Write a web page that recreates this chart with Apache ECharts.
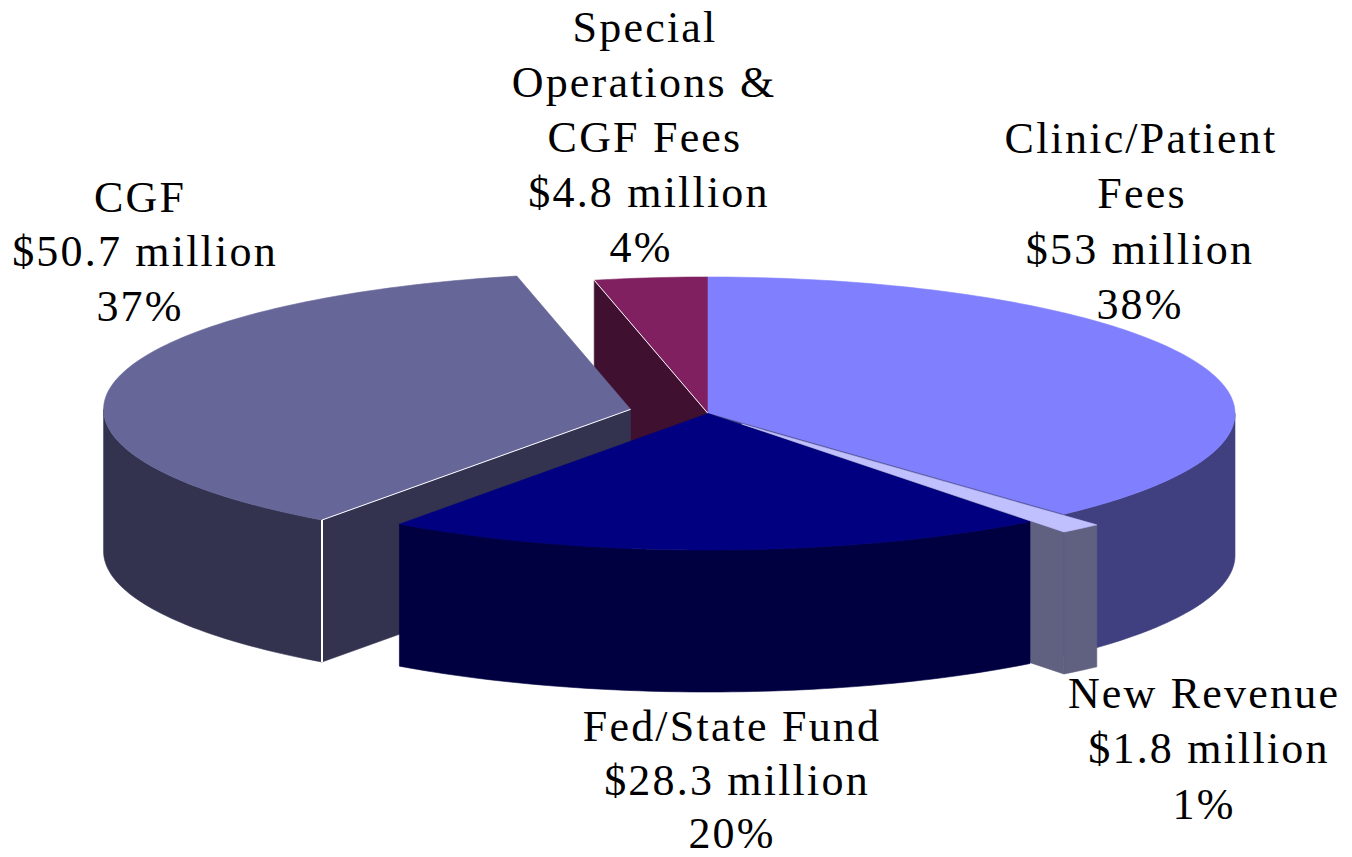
<!DOCTYPE html>
<html>
<head>
<meta charset="utf-8">
<style>
html,body{margin:0;padding:0;background:#fff}
#chart{width:1352px;height:857px}
#chart text{letter-spacing:2.2px}
</style>
<script src="https://cdn.jsdelivr.net/npm/echarts@6/dist/echarts.min.js"></script>
</head>
<body>
<div id="chart"></div>
<script>
// Data, clockwise from 12 o'clock
const categories = ['Clinic/Patient\nFees', 'New Revenue', 'Fed/State Fund', 'CGF', 'Special\nOperations &\nCGF Fees'];
const values = [53, 1.8, 28.3, 50.7, 4.8];
const amounts = ['$53 million', '$1.8 million', '$28.3 million', '$50.7 million', '$4.8 million'];
const percents = ['38%', '1%', '20%', '37%', '4%'];
const explode = [0, 0.1, 0, 0.15, 0];

// Styles
const topColors = ['#8080ff', '#c0c0ff', '#000080', '#666699', '#802060'];
const wallColors = ['#404080', '#606080', '#000040', '#333350', '#401030'];

// Projection of the disc
const CX = 708, CY = 413.5, RX = 527, RY = 136.5, DEPTH = 142;
// Label line centres, one [x, y] per text line of each slice
const labelPos = [
  [[1141, 138], [1142, 193], [1140, 249], [1140, 304]],
  [[1204, 693], [1209, 748], [1204, 804]],
  [[732, 726], [737, 780], [732, 833]],
  [[140, 197], [145, 251], [140, 306]],
  [[645, 27], [644, 82], [645, 137], [649, 192], [641, 247]]
];

const total = values.reduce((a, b) => a + b, 0);
const angles = [];
values.reduce((acc, v) => {
  const next = acc + v / total * 2 * Math.PI;
  angles.push([acc, next]);
  return next;
}, 0);

function rim(a, ox, oy) { return [CX + ox + RX * Math.sin(a), CY + oy - RY * Math.cos(a)]; }
function arc(a0, a1, ox, oy) {
  const n = Math.max(2, Math.ceil((a1 - a0) / 0.02));
  const pts = [];
  for (let k = 0; k <= n; k++) pts.push(rim(a0 + (a1 - a0) * k / n, ox, oy));
  return pts;
}
const down = p => [p[0], p[1] + DEPTH];
function poly(points, fill, z2) {
  return { type: 'polygon', z2, shape: { points }, style: { fill, stroke: fill, lineWidth: 0.6 }, silent: true };
}
function line(a, b, width, z2) {
  return { type: 'line', z2, shape: { x1: a[0], y1: a[1], x2: b[0], y2: b[1] },
           style: { stroke: '#ffffff', lineWidth: width }, silent: true };
}

// Painter's order per slice; -1 means the face is never visible
const layers = [
  { startFace: -1, endFace: 6, wall: 2, top: 5 },    // Clinic
  { startFace: -1, endFace: 7, wall: 3, top: 40 },   // New revenue
  { startFace: -1, endFace: -1, wall: 30, top: 31 }, // Fed/State
  { startFace: 10, endFace: -1, wall: 10, top: 20 }, // CGF
  { startFace: 1, endFace: -1, wall: -1, top: 4 }    // Special
];

function renderSlice(params, api) {
  const i = params.dataIndex;
  const [a0, a1] = angles[i];
  const mid = (a0 + a1) / 2;
  const ox = explode[i] * RX * Math.sin(mid);
  const oy = -explode[i] * RY * Math.cos(mid);
  const apex = [CX + ox, CY + oy];
  const L = layers[i];
  const kids = [];
  const p0 = rim(a0, ox, oy), p1 = rim(a1, ox, oy);

  if (L.startFace >= 0) kids.push(poly([apex, p0, down(p0), down(apex)], wallColors[i], L.startFace));
  if (L.endFace >= 0) kids.push(poly([apex, p1, down(p1), down(apex)], wallColors[i], L.endFace));

  // Only the front half of the rim (90deg..270deg) shows as an outer wall
  const w0 = Math.max(a0, Math.PI / 2), w1 = Math.min(a1, 1.5 * Math.PI);
  if (L.wall >= 0 && w1 > w0) {
    const edge = arc(w0, w1, ox, oy);
    kids.push(poly(edge.concat(edge.slice().reverse().map(down)), wallColors[i], L.wall));
  }
  kids.push(poly([apex].concat(arc(a0, a1, ox, oy)), topColors[i], L.top));

  if (i === 3) { // white highlight on the pulled-out CGF corner
    kids.push(line(apex, p0, 1, 21));
    kids.push(line(p0, down(p0), 2, 21));
  }
  if (i === 4) { // white highlight on the edge of the Special slice
    kids.push(line(apex, p0, 1, 5));
  }

  const lines = categories[i].split('\n').concat([amounts[i], percents[i]]);
  lines.forEach((t, k) => {
    kids.push({
      type: 'text', z2: 50, silent: true,
      x: labelPos[i][k][0], y: labelPos[i][k][1],
      style: { text: t, fill: '#000', align: 'center', verticalAlign: 'middle',
               font: '44px "Liberation Serif"', lineHeight: 38 }
    });
  });
  return { type: 'group', children: kids };
}

const chart = echarts.init(document.getElementById('chart'), null, { renderer: 'svg', width: 1352, height: 857 });
chart.setOption({
  animation: false,
  backgroundColor: '#ffffff',
  series: [{
    type: 'custom',
    coordinateSystem: 'none',
    renderItem: renderSlice,
    data: values.map((v, i) => ({ name: categories[i], value: [v] }))
  }]
});
</script>
</body>
</html>
